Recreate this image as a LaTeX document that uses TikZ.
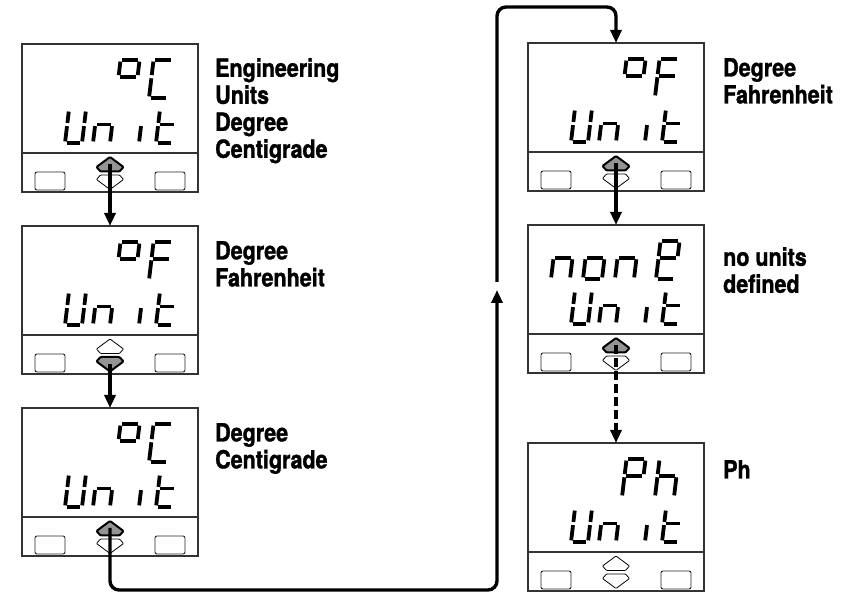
\documentclass[tikz,border=0pt]{standalone}
\usepackage{fontspec}
\setmainfont{TeX Gyre Heros}[FakeStretch=0.86, BoldFeatures={FakeBold=1.3}]
\usetikzlibrary{arrows.meta}
\tikzset{
  panelbox/.style={draw=black!80, line width=1.1pt, minimum width=176pt, minimum height=148pt, inner sep=0pt, outer sep=0pt, anchor=north west},
  sepline/.style={draw=black!80, line width=1.1pt},
  btn/.style={draw=black!85, line width=0.9pt, rounded corners=2pt},
  keyoff/.style={draw=black, line width=0.8pt, fill=white, rounded corners=0.8pt},
  keyon/.style={draw=black, line width=2pt, fill=black!42, rounded corners=1pt},
  segline/.style={line width=3.8pt},
  conn/.style={line width=3.4pt, -{Triangle[width=11pt,length=13pt]}},
  lbl/.style={anchor=north west, inner sep=0pt, align=left, font=\bfseries\fontsize{25}{27}\selectfont}
}
\def\sgGap{1.6}
\newcommand\sga{\draw[segline] (\sgGap,\sgH)--({\sgW-\sgGap},\sgH);}
\newcommand\sgb{\draw[segline] (\sgW,{\sgH-\sgGap})--(\sgW,{\sgMid+\sgGap});}
\newcommand\sgc{\draw[segline] (\sgW,{\sgMid-\sgGap})--(\sgW,\sgGap);}
\newcommand\sgd{\draw[segline] (\sgGap,0)--({\sgW-\sgGap},0);}
\newcommand\sge{\draw[segline] (0,{\sgMid-\sgGap})--(0,\sgGap);}
\newcommand\sgf{\draw[segline] (0,{\sgH-\sgGap})--(0,{\sgMid+\sgGap});}
\newcommand\sgg{\draw[segline] (\sgGap,\sgMid)--({\sgW-\sgGap},\sgMid);}
\newcommand\dg[5]{%
  \begin{scope}[shift={(#1,#2)}, xslant=0.12]
    \def\sgW{#3}\def\sgH{#4}\pgfmathsetmacro\sgMid{0.56*#4}
    \foreach \s in {#5}{\csname sg\s\endcsname}
  \end{scope}}
\newcommand\tdig[2]{\dg{#1}{-54}{19}{38}{#2}}
\newcommand\bdig[2]{\dg{#1}{-99}{17}{33}{#2}}
\newcommand\unitrow{\bdig{43}{b,c,d,e,f}\bdig{71}{c,e,g}\bdig{100}{c}\bdig{134}{d,e,f,g}}
\newcommand\upkey[1]{\draw[#1] (88,-113) -- (101.5,-123) -- (97.5,-127.5) -- (78.5,-127.5) -- (74.5,-123) -- cycle;}
\newcommand\dnkey[1]{\draw[#1] (88,-145.5) -- (101.5,-135.5) -- (97.5,-131) -- (78.5,-131) -- (74.5,-135.5) -- cycle;}
\newcommand\panel[4]{%
  \node[panelbox] (#1) at (#2,{593-#3}) {};
  \begin{scope}[shift={(#1.north west)}]
    \draw[sepline] (0,-109) -- (176,-109);
    \draw[btn] (13,-128) rectangle (43,-146);
    \draw[btn] (133,-128) rectangle (163,-146);
    \coordinate (#1up) at (88,-120);
    \coordinate (#1dn) at (88,-138);
    #4
  \end{scope}}
\begin{document}
\begin{tikzpicture}[x=1pt,y=1pt]
\fill[white] (0,0) rectangle (849,593);
\useasboundingbox (0,0) rectangle (849,593);
% panels
\panel{p1}{22}{44}{\tdig{94}{a,b,f,g}\tdig{127}{a,d,e,f}\unitrow\upkey{keyon}\dnkey{keyoff}}
\panel{p2}{22}{226}{\tdig{94}{a,b,f,g}\tdig{127}{a,e,f,g}\unitrow\upkey{keyoff}\dnkey{keyon}}
\panel{p3}{22}{408}{\tdig{94}{a,b,f,g}\tdig{127}{a,d,e,f}\unitrow\upkey{keyon}\dnkey{keyoff}}
\panel{p4}{528}{43}{\tdig{94}{a,b,f,g}\tdig{127}{a,e,f,g}\unitrow\upkey{keyon}\dnkey{keyoff}}
\panel{p5}{528}{225}{\tdig{23}{c,e,g}\tdig{55}{c,d,e,g}\tdig{87}{c,e,g}\tdig{128}{a,b,d,e,f,g}\unitrow\upkey{keyon}\dnkey{keyoff}}
\panel{p6}{528}{443}{\tdig{94}{a,b,e,f,g}\tdig{127}{c,e,f,g}\unitrow\upkey{keyoff}\dnkey{keyoff}}
% labels
\node[lbl] (l1) at ([xshift=17pt,yshift=-14pt]p1.north east) {Engineering\\Units\\Degree\\Centigrade};
\node[lbl] (l2) at ([xshift=17pt,yshift=-15pt]p2.north east) {Degree\\Fahrenheit};
\node[lbl] (l3) at ([xshift=17pt,yshift=-15pt]p3.north east) {Degree\\Centigrade};
\node[lbl] (l4) at ([xshift=19pt,yshift=-15pt]p4.north east) {Degree\\Fahrenheit};
\node[lbl] (l5) at ([xshift=19pt,yshift=-22pt]p5.north east) {no units\\defined};
\node[lbl] (l6) at ([xshift=19pt,yshift=-17pt]p6.north east) {Ph};
% connectors
\coordinate (botc) at (497,3);
\coordinate (gapA) at (497,303);
\coordinate (gapB) at (497,311);
\coordinate (topc) at (497,586);
\draw[conn] (p1up) -- (p2.north);
\draw[conn] (p2dn) -- (p3.north);
\draw[conn, rounded corners=9pt] (p3up) |- (botc) -- (gapA);
\draw[conn, rounded corners=9pt] (gapB) -- (topc) -| (p4.north);
\draw[conn] (p4up) -- (p5.north);
\draw[conn, dash pattern=on 9pt off 4pt] (p5up) -- (p6.north);
\end{tikzpicture}
\end{document}
